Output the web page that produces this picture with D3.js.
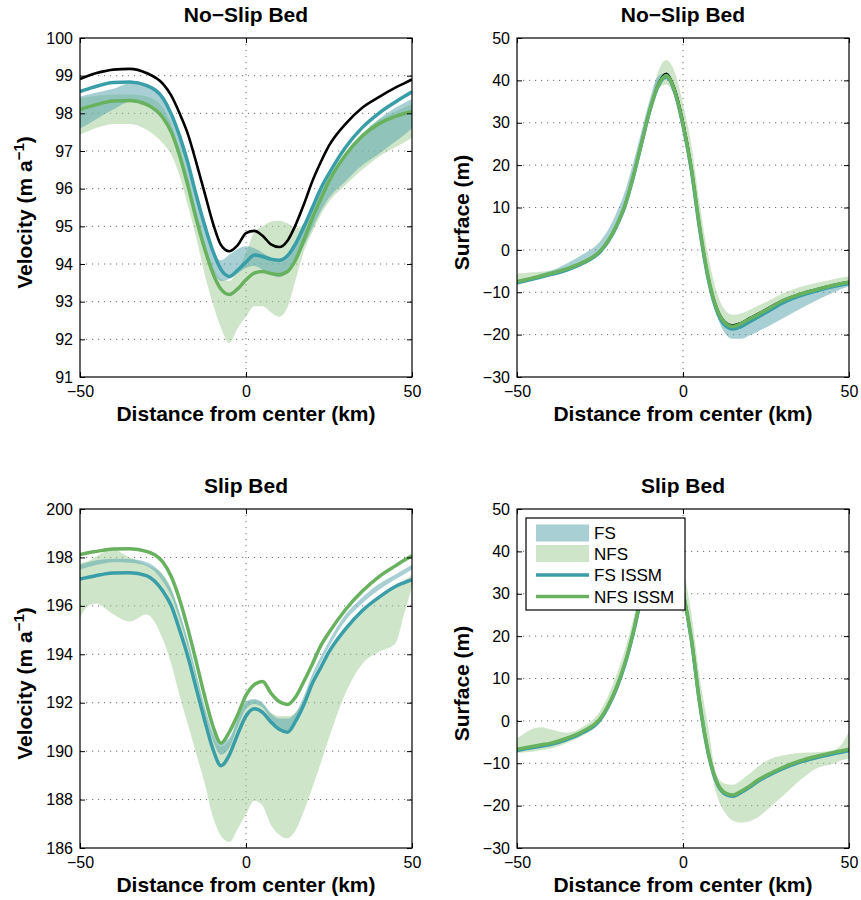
<!DOCTYPE html>
<html>
<head>
<meta charset="utf-8">
<script src="https://cdn.jsdelivr.net/npm/d3@7"></script>
<style>
  body { margin: 0; background: #fff; }
  svg { display: block; }
  text { font-family: "Liberation Sans", Arial, Helvetica, sans-serif; fill: #000; }
</style>
</head>
<body>
<svg id="fig" width="861" height="900"></svg>
<script>
// ---- shared abscissa (km from center) and tick sets ----
const distanceKm = [-50, -47.5, -45, -42.5, -40, -35, -30, -25, -22.5, -20, -17.5, -15, -12.5, -10, -7.5, -5, -2.5, 0,
                    2.5, 5, 7.5, 10, 12.5, 15, 17.5, 20, 22.5, 25, 30, 35, 40, 45, 47.5, 50];
const xTicks = [-50, 0, 50];
const noSlipVelocityTicks = [91, 92, 93, 94, 95, 96, 97, 98, 99, 100];
const surfaceTicks = [-30, -20, -10, 0, 10, 20, 30, 40, 50];
const slipVelocityTicks = [186, 188, 190, 192, 194, 196, 198, 200];
const legendLabels = ["FS", "NFS", "FS ISSM", "NFS ISSM"];

// ---- No-slip bed: velocity (m/a) ----
const nsVelRef     = [98.91, 99.0, 99.07, 99.12, 99.16, 99.18, 99.07, 98.78, 98.47, 98.0, 97.45, 96.7, 95.9, 95.1, 94.5, 94.34, 94.5, 94.82,
                      94.88, 94.75, 94.52, 94.45, 94.62, 95.05, 95.6, 96.2, 96.7, 97.14, 97.72, 98.15, 98.43, 98.68, 98.79, 98.9];
const nsVelFsIssm  = [98.58, 98.65, 98.72, 98.78, 98.82, 98.83, 98.74, 98.4, 97.98, 97.4, 96.68, 95.83, 95.04, 94.35, 93.85, 93.67, 93.84, 94.05,
                      94.24, 94.2, 94.13, 94.1, 94.22, 94.55, 95.0, 95.5, 96.0, 96.4, 97.1, 97.62, 98.0, 98.3, 98.44, 98.57];
const nsVelNfsIssm = [98.1, 98.17, 98.23, 98.29, 98.33, 98.34, 98.24, 97.88, 97.5, 96.88, 96.08, 95.2, 94.42, 93.76, 93.33, 93.19, 93.34, 93.58,
                      93.76, 93.8, 93.75, 93.72, 93.8, 94.12, 94.65, 95.22, 95.72, 96.2, 96.9, 97.4, 97.72, 97.92, 97.99, 98.05];
const nsVelFsLow   = [97.6, 97.72, 97.85, 97.98, 98.1, 98.3, 98.25, 97.95, 97.55, 96.95, 96.2, 95.3, 94.5, 93.85, 93.55, 93.6, 93.75, 93.9,
                      93.95, 93.85, 93.72, 93.65, 93.8, 94.1, 94.5, 94.95, 95.4, 95.75, 96.2, 96.62, 96.92, 97.25, 97.42, 97.6];
const nsVelFsHigh  = [98.45, 98.5, 98.55, 98.6, 98.65, 98.8, 98.72, 98.42, 98.0, 97.38, 96.65, 95.8, 95.0, 94.32, 94.1, 94.25, 94.4, 94.47,
                      94.42, 94.3, 94.15, 94.05, 94.15, 94.5, 94.95, 95.45, 95.9, 96.3, 96.95, 97.45, 97.85, 98.15, 98.27, 98.38];
const nsVelNfsLow  = [97.43, 97.53, 97.62, 97.68, 97.72, 97.72, 97.57, 97.2, 96.9, 96.35, 95.55, 94.7, 93.75, 92.95, 92.3, 91.9, 92.3, 92.6,
                      92.88, 92.88, 92.72, 92.6, 92.85, 93.6, 94.35, 94.85, 95.3, 95.65, 96.1, 96.5, 96.85, 97.1, 97.22, 97.35];
const nsVelNfsHigh = [98.4, 98.44, 98.47, 98.49, 98.5, 98.5, 98.45, 98.15, 97.7, 97.05, 96.3, 95.4, 94.6, 93.95, 93.6, 93.55, 93.85, 94.3,
                      94.85, 95.0, 95.12, 95.15, 95.08, 94.95, 95.1, 95.55, 95.95, 96.3, 96.95, 97.45, 97.82, 98.05, 98.15, 98.25];

// ---- No-slip bed: surface (m) ----
const nsSurfRef     = [-7.4, -6.95, -6.5, -6.0, -5.5, -4.4, -2.8, -0.2, 2.3, 5.9, 10.6, 17.4, 25.4, 33.3, 39.3, 41.7, 38.3, 30.8,
                       20.3, 6.2, -5.5, -13.0, -16.7, -17.7, -17.1, -16.0, -15.0, -13.9, -11.8, -10.3, -9.2, -8.2, -7.8, -7.45];
const nsSurfFsIssm  = [-7.8, -7.3, -6.85, -6.35, -5.85, -4.75, -3.1, -0.5, 2.0, 5.6, 10.3, 17.1, 25.0, 32.8, 38.6, 40.9, 37.3, 29.4,
                       18.9, 5.0, -6.5, -14.0, -17.7, -18.7, -18.1, -17.0, -15.9, -14.8, -12.5, -10.9, -9.7, -8.7, -8.3, -7.9];
const nsSurfNfsIssm = [-7.5, -7.05, -6.6, -6.1, -5.6, -4.5, -2.9, -0.3, 2.2, 5.8, 10.5, 17.3, 25.2, 33.0, 38.8, 41.1, 37.5, 29.7,
                       19.3, 5.5, -6.0, -13.5, -17.1, -18.1, -17.4, -16.3, -15.3, -14.2, -12.0, -10.5, -9.4, -8.4, -8.0, -7.6];
const nsSurfFsLow   = [-7.8, -7.4, -7.0, -6.5, -6.0, -4.8, -3.2, -0.5, 1.8, 5.5, 10.2, 17.0, 25.0, 32.5, 38.5, 40.2, 36.5, 28.5,
                       18.5, 4.5, -7.0, -15.0, -19.5, -21.0, -21.0, -20.2, -19.3, -18.3, -16.2, -14.0, -12.0, -10.2, -9.3, -8.5];
const nsSurfFsHigh  = [-7.2, -6.7, -6.2, -5.6, -5.0, -3.2, -1.0, 2.0, 4.8, 8.8, 13.8, 20.5, 28.0, 35.5, 41.0, 41.8, 38.5, 30.5,
                       20.5, 6.5, -5.2, -13.0, -16.8, -17.5, -17.0, -16.2, -15.2, -14.0, -11.8, -10.3, -9.2, -8.2, -7.8, -7.3];
const nsSurfNfsLow  = [-8.3, -7.8, -7.3, -6.7, -6.1, -4.9, -3.3, -0.7, 1.7, 5.2, 9.8, 16.6, 24.5, 32.0, 38.0, 39.0, 36.0, 29.0,
                       19.0, 5.0, -6.5, -14.0, -18.0, -19.0, -18.5, -17.4, -16.2, -15.0, -12.8, -11.2, -10.0, -9.0, -8.6, -8.3];
const nsSurfNfsHigh = [-5.6, -5.45, -5.3, -5.1, -4.9, -4.0, -2.5, 0.2, 2.7, 6.4, 11.2, 18.0, 26.0, 34.0, 42.0, 44.8, 42.0, 34.5,
                       25.0, 11.0, -1.0, -9.5, -14.0, -15.3, -15.0, -14.2, -13.2, -12.3, -10.3, -8.8, -7.8, -7.0, -6.6, -6.3];

// ---- Slip bed: velocity (m/a) ----
const sVelFsIssm  = [197.11, 197.18, 197.25, 197.32, 197.36, 197.37, 197.25, 196.6, 196.0, 195.0, 193.9, 192.6, 191.3, 190.1, 189.4, 189.85, 190.7, 191.45,
                     191.75, 191.6, 191.2, 190.9, 190.78, 191.25, 191.95, 192.8, 193.45, 194.1, 195.05, 195.8, 196.35, 196.8, 196.95, 197.08];
const sVelNfsIssm = [198.12, 198.19, 198.25, 198.31, 198.35, 198.36, 198.25, 197.8, 197.2, 196.26, 195.05, 193.7, 192.3, 191.05, 190.33, 190.8, 191.5, 192.3,
                     192.75, 192.88, 192.4, 192.05, 191.93, 192.25, 192.9, 193.6, 194.35, 194.9, 195.85, 196.6, 197.2, 197.65, 197.87, 198.07];
const sVelFsLow   = [197.5, 197.6, 197.7, 197.76, 197.8, 197.78, 197.65, 197.0, 196.4, 195.45, 194.3, 192.95, 191.6, 190.45, 189.85, 190.15, 191.0, 191.75,
                     191.95, 191.8, 191.3, 190.9, 190.85, 191.3, 192.05, 192.95, 193.65, 194.3, 195.4, 196.1, 196.65, 197.1, 197.3, 197.5];
const sVelFsHigh  = [197.7, 197.8, 197.88, 197.92, 197.95, 197.93, 197.8, 197.25, 196.65, 195.7, 194.6, 193.25, 191.9, 190.8, 190.35, 190.55, 191.35, 192.05,
                     192.15, 192.0, 191.55, 191.35, 191.35, 191.6, 192.3, 193.2, 193.9, 194.55, 195.65, 196.35, 196.9, 197.3, 197.5, 197.7];
const sVelNfsLow  = [195.5, 196.0, 196.1, 195.9, 195.65, 195.35, 195.64, 194.6, 193.6, 192.3, 191.1, 189.9, 188.7, 187.3, 186.5, 186.25, 186.8, 187.4,
                     187.95, 187.75, 186.95, 186.55, 186.4, 186.75, 187.55, 188.5, 189.5, 190.55, 192.4, 193.6, 194.1, 194.45, 195.6, 196.8];
const sVelNfsHigh = [197.77, 197.85, 198.05, 198.25, 198.32, 198.0, 197.7, 197.3, 196.75, 195.7, 194.5, 193.1, 191.75, 190.65, 190.2, 190.45, 191.3, 192.0,
                     192.1, 191.95, 191.6, 191.45, 191.45, 191.6, 192.1, 192.9, 193.55, 194.15, 195.1, 195.85, 196.4, 196.85, 197.05, 197.3];

// ---- Slip bed: surface (m) ----
const sSurfFsIssm  = [-7.0, -6.6, -6.3, -5.95, -5.6, -4.4, -2.7, 0.2, 3.4, 7.7, 13.3, 20.6, 29.2, 35.8, 40.0, 41.2, 38.3, 30.3,
                      19.2, 4.2, -7.3, -14.3, -17.2, -17.8, -16.9, -15.7, -14.3, -13.2, -11.3, -9.8, -8.7, -7.8, -7.4, -7.0];
const sSurfNfsIssm = [-6.7, -6.35, -6.0, -5.65, -5.3, -4.1, -2.4, 0.5, 3.7, 8.0, 13.6, 20.9, 29.5, 36.0, 40.2, 41.4, 38.5, 30.5,
                      19.5, 4.5, -7.0, -14.0, -16.9, -17.5, -16.6, -15.4, -14.0, -12.9, -11.0, -9.5, -8.4, -7.5, -7.1, -6.7];
const sSurfFsLow   = [-7.3, -6.9, -6.6, -6.3, -5.9, -4.7, -3.0, -0.2, 3.0, 7.2, 12.8, 20.0, 28.6, 35.2, 39.5, 40.7, 37.8, 29.7,
                      18.6, 3.6, -7.9, -14.8, -17.6, -18.2, -17.3, -16.1, -14.7, -13.6, -11.7, -10.2, -9.1, -8.2, -7.8, -7.4];
const sSurfFsHigh  = [-6.6, -6.2, -5.9, -5.6, -5.2, -4.0, -2.3, 0.6, 3.9, 8.3, 13.9, 21.3, 29.9, 36.4, 40.6, 41.8, 39.0, 31.0,
                      19.9, 4.9, -6.6, -13.7, -16.7, -17.3, -16.4, -15.2, -13.8, -12.7, -10.8, -9.4, -8.3, -7.4, -7.0, -6.5];
const sSurfNfsLow  = [-7.6, -7.4, -7.2, -6.9, -6.6, -5.2, -3.4, -0.5, 2.6, 7.0, 12.5, 19.5, 27.5, 34.5, 39.0, 40.5, 37.5, 29.5,
                      18.3, 3.5, -8.0, -17.0, -21.5, -23.5, -24.0, -23.7, -22.8, -21.2, -17.8, -14.2, -11.3, -10.2, -9.4, -8.8];
const sSurfNfsHigh = [-4.1, -2.8, -1.8, -1.5, -2.0, -2.8, -1.3, 2.3, 6.0, 11.0, 16.8, 24.0, 32.0, 38.5, 43.0, 44.0, 42.5, 36.0,
                      25.5, 10.5, -1.0, -12.5, -14.8, -15.1, -14.0, -12.5, -10.8, -9.5, -8.2, -7.6, -7.4, -7.0, -5.8, -2.5];

// ---- styling ----
const colors = {
  fsBand: "#51a1a9",
  nfsBand: "#9fcb93",
  fsLine: "#3a9ea8",
  nfsLine: "#68b25f",
  ref: "#000"
};
const bandOpacity = 0.5;
const plotW = 332, plotH = 339;
const labelSize = 21;

const svg = d3.select("#fig");

const panels = [
  { id: "p1", left: 80, top: 38, yDomain: [91, 100], yTicks: noSlipVelocityTicks, title: "No\u2212Slip Bed", ylabel: "velocity",
    fsLow: nsVelFsLow, fsHigh: nsVelFsHigh, nfsLow: nsVelNfsLow, nfsHigh: nsVelNfsHigh,
    ref: nsVelRef, refWidth: 2.6, fsIssm: nsVelFsIssm, nfsIssm: nsVelNfsIssm },
  { id: "p2", left: 517, top: 38, yDomain: [-30, 50], yTicks: surfaceTicks, title: "No\u2212Slip Bed", ylabel: "surface",
    fsLow: nsSurfFsLow, fsHigh: nsSurfFsHigh, nfsLow: nsSurfNfsLow, nfsHigh: nsSurfNfsHigh,
    ref: nsSurfRef, refWidth: 1.3, fsIssm: nsSurfFsIssm, nfsIssm: nsSurfNfsIssm, refBelow: true },
  { id: "p3", left: 80, top: 509, yDomain: [186, 200], yTicks: slipVelocityTicks, title: "Slip Bed", ylabel: "velocity",
    fsLow: sVelFsLow, fsHigh: sVelFsHigh, nfsLow: sVelNfsLow, nfsHigh: sVelNfsHigh,
    fsIssm: sVelFsIssm, nfsIssm: sVelNfsIssm },
  { id: "p4", left: 517, top: 509, yDomain: [-30, 50], yTicks: surfaceTicks, title: "Slip Bed", ylabel: "surface",
    fsLow: sSurfFsLow, fsHigh: sSurfFsHigh, nfsLow: sSurfNfsLow, nfsHigh: sSurfNfsHigh,
    fsIssm: sSurfFsIssm, nfsIssm: sSurfNfsIssm, legend: true }
];

const tickFmt = d3.format("d");

panels.forEach(p => {
  const x = d3.scaleLinear().domain([-50, 50]).range([p.left, p.left + plotW]);
  const y = d3.scaleLinear().domain(p.yDomain).range([p.top + plotH, p.top]);
  const g = svg.append("g");

  g.append("clipPath").attr("id", "clip-" + p.id)
    .append("rect").attr("x", p.left).attr("y", p.top).attr("width", plotW).attr("height", plotH);

  // dotted grid
  const grid = g.append("g").attr("stroke", "#6f6f6f").attr("stroke-width", 1).attr("stroke-dasharray", "1.2,4.8");
  p.yTicks.filter(v => v > p.yDomain[0] && v < p.yDomain[1]).forEach(v => {
    grid.append("line").attr("x1", p.left).attr("x2", p.left + plotW)
      .attr("y1", y(v)).attr("y2", y(v));
  });
  xTicks.filter(v => v > -50 && v < 50).forEach(v => {
    grid.append("line").attr("x1", x(v)).attr("x2", x(v))
      .attr("y1", p.top).attr("y2", p.top + plotH);
  });

  const data = p.fsIssm.map((_, i) => i);
  const band = (lo, hi) => d3.area()
    .x(i => x(distanceKm[i])).y0(i => y(lo[i])).y1(i => y(hi[i]))
    .curve(d3.curveMonotoneX);
  const line = vals => d3.line()
    .x(i => x(distanceKm[i])).y(i => y(vals[i]))
    .curve(d3.curveMonotoneX);

  const plot = g.append("g").attr("clip-path", `url(#clip-${p.id})`);

  // ensemble spreads
  plot.append("path").attr("d", band(p.nfsLow, p.nfsHigh)(data))
    .attr("fill", colors.nfsBand).attr("fill-opacity", bandOpacity);
  plot.append("path").attr("d", band(p.fsLow, p.fsHigh)(data))
    .attr("fill", colors.fsBand).attr("fill-opacity", bandOpacity);

  const drawRef = () => {
    if (!p.ref) return;
    plot.append("path").attr("d", line(p.ref)(data))
      .attr("fill", "none").attr("stroke", colors.ref).attr("stroke-width", p.refWidth);
  };
  if (!p.refBelow) drawRef();
  plot.append("path").attr("d", line(p.fsIssm)(data))
    .attr("fill", "none").attr("stroke", colors.fsLine).attr("stroke-width", 3.5);
  if (p.refBelow) drawRef();
  plot.append("path").attr("d", line(p.nfsIssm)(data))
    .attr("fill", "none").attr("stroke", colors.nfsLine).attr("stroke-width", 3.5);

  // axes with inward ticks on all four sides
  const styleAxis = sel => {
    sel.select(".domain").remove();
    sel.selectAll(".tick line").attr("stroke", "#000").attr("stroke-width", 1);
    sel.selectAll(".tick text").attr("font-size", 16).attr("fill", "#000")
      .attr("font-family", '"Liberation Sans", Arial, Helvetica, sans-serif');
  };
  g.append("g").attr("transform", `translate(${p.left},0)`)
    .call(d3.axisLeft(y).tickValues(p.yTicks).tickFormat(tickFmt).tickSizeInner(-5).tickSizeOuter(0).tickPadding(7))
    .call(styleAxis);
  g.append("g").attr("transform", `translate(${p.left + plotW},0)`)
    .call(d3.axisRight(y).tickValues(p.yTicks).tickFormat("").tickSizeInner(-5).tickSizeOuter(0))
    .call(styleAxis);
  g.append("g").attr("transform", `translate(0,${p.top + plotH})`)
    .call(d3.axisBottom(x).tickValues(xTicks).tickFormat(tickFmt).tickSizeInner(-5).tickSizeOuter(0).tickPadding(9))
    .call(styleAxis);
  g.append("g").attr("transform", `translate(0,${p.top})`)
    .call(d3.axisTop(x).tickValues(xTicks).tickFormat("").tickSizeInner(-5).tickSizeOuter(0))
    .call(styleAxis);

  g.append("rect").attr("x", p.left).attr("y", p.top).attr("width", plotW).attr("height", plotH)
    .attr("fill", "none").attr("stroke", "#000").attr("stroke-width", 1.2);

  // title and axis labels
  const cx = p.left + plotW / 2;
  g.append("text").attr("x", cx).attr("y", p.top - 16).attr("text-anchor", "middle")
    .attr("font-size", labelSize).attr("font-weight", "bold").text(p.title);
  g.append("text").attr("x", cx).attr("y", p.top + plotH + 44).attr("text-anchor", "middle")
    .attr("font-size", labelSize).attr("font-weight", "bold").text("Distance from center (km)");

  const ly = g.append("text")
    .attr("transform", `translate(${p.left - 48},${p.top + plotH / 2 + 5}) rotate(-90)`)
    .attr("text-anchor", "middle").attr("font-size", labelSize).attr("font-weight", "bold");
  if (p.ylabel === "velocity") {
    ly.append("tspan").text("Velocity (m a");
    ly.append("tspan").attr("dy", -8).attr("font-size", 15).text("\u22121");
    ly.append("tspan").attr("dy", 8).text(")");
  } else {
    ly.text("Surface (m)");
  }

  if (p.legend) {
    const lg = g.append("g");
    lg.append("rect").attr("x", 526).attr("y", 518).attr("width", 159).attr("height", 92)
      .attr("fill", "#fff").attr("stroke", "#000").attr("stroke-width", 1.2);
    const rows = [533, 553.5, 575, 596.5];
    const swX0 = 536, swX1 = 589;
    lg.append("rect").attr("x", swX0).attr("y", rows[0] - 8.5).attr("width", swX1 - swX0).attr("height", 17)
      .attr("fill", colors.fsBand).attr("fill-opacity", bandOpacity);
    lg.append("rect").attr("x", swX0).attr("y", rows[1] - 8.5).attr("width", swX1 - swX0).attr("height", 17)
      .attr("fill", colors.nfsBand).attr("fill-opacity", bandOpacity);
    lg.append("line").attr("x1", swX0).attr("x2", swX1).attr("y1", rows[2]).attr("y2", rows[2])
      .attr("stroke", colors.fsLine).attr("stroke-width", 3.5);
    lg.append("line").attr("x1", swX0).attr("x2", swX1).attr("y1", rows[3]).attr("y2", rows[3])
      .attr("stroke", colors.nfsLine).attr("stroke-width", 3.5);
    legendLabels.forEach((lab, i) => {
      lg.append("text").attr("x", 594).attr("y", rows[i]).attr("dy", "0.36em")
        .attr("font-size", 17).text(lab);
    });
  }
});
</script>
</body>
</html>
